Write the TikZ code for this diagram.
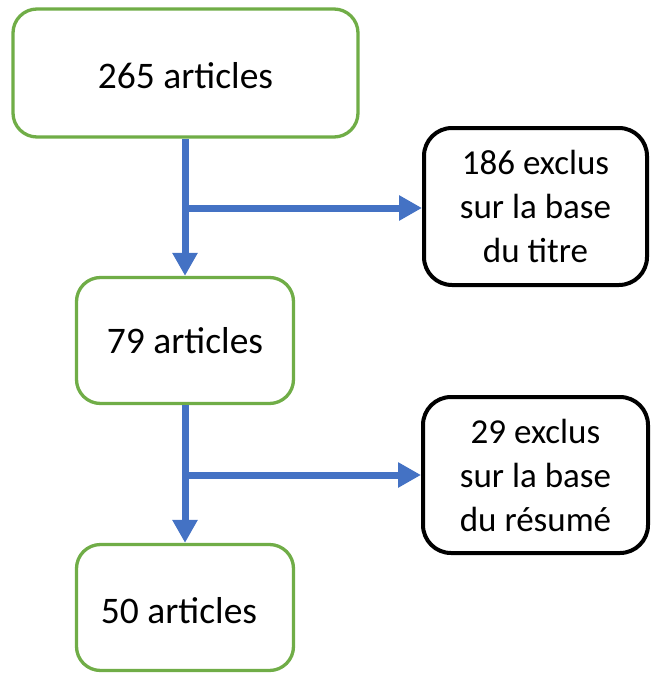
\documentclass[tikz,border=0pt]{standalone}
\usepackage{fontspec}
\setmainfont{Carlito}
\usetikzlibrary{arrows.meta}
\definecolor{boxgreen}{HTML}{70AD47}
\definecolor{arrblue}{HTML}{4472C4}
\newcommand{\lowertext}[1]{\raisebox{-3pt}[\height][\depth]{#1}}
\tikzset{
  greenbox/.style={draw=boxgreen, line width=3.3pt, rounded corners=24pt, fill=white,
    align=center, inner sep=0pt, font=\fontsize{37.5}{44}\selectfont},
  blackbox/.style={draw=black, line width=4pt, rounded corners=28pt, fill=white,
    align=center, inner sep=0pt, font=\fontsize{35}{44}\selectfont},
  arr/.style={draw=arrblue, line width=7pt, -{Triangle[width=24pt,length=23pt]}}
}
\begin{document}
\begin{tikzpicture}[x=1pt,y=-1pt]
\useasboundingbox (0,0) rectangle (656,675);
\node[greenbox, minimum width=345pt, minimum height=128pt] (a1) at (185.5,73) {\lowertext{265 articles}};
\node[greenbox, minimum width=217pt, minimum height=126pt] (a2) at (185,340.5) {79 articles};
\node[greenbox, minimum width=217pt, minimum height=126pt] (a3) at (185,607.5) {\hspace*{-12pt}\lowertext{50 articles}};
\node[blackbox, minimum width=223pt, minimum height=157pt] (e1) at (535.5,206.5) {186 exclus\\sur la base\\du titre};
\node[blackbox, minimum width=225pt, minimum height=156pt] (e2) at (535.5,475) {29 exclus\\sur la base\\du résumé};
\coordinate (j1) at (185,208);
\coordinate (j2) at (185,475);
\draw[arr] (a1.south -| a2.north) -- (a2.north);
\draw[arr] (a2.south) -- (a3.north);
\draw[arr] (j1) -- (e1.west |- j1);
\draw[arr] (j2) -- (e2.west |- j2);
\end{tikzpicture}
\end{document}
